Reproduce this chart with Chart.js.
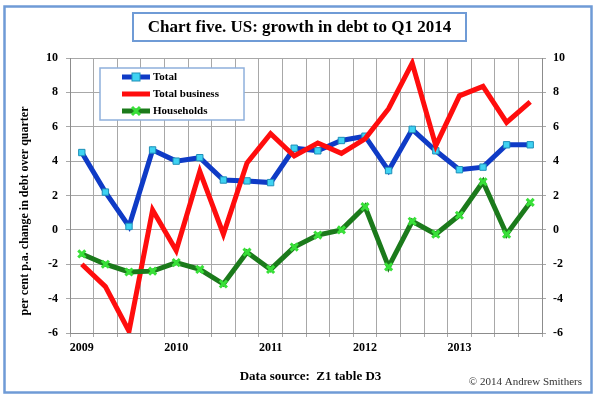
<!DOCTYPE html>
<html>
<head>
<meta charset="utf-8">
<script src="https://cdn.jsdelivr.net/npm/chart.js@4/dist/chart.umd.min.js"></script>
<style>
  html, body { margin: 0; padding: 0; background: #fff; }
  #wrap { width: 600px; height: 399px; }
</style>
</head>
<body>
<div id="wrap"><canvas id="canvas1" width="600" height="399"></canvas></div>
<script>
// quarterly data 2009 Q1 .. 2013 Q4
var quarters = [
  '2009 Q1', '2009 Q2', '2009 Q3', '2009 Q4',
  '2010 Q1', '2010 Q2', '2010 Q3', '2010 Q4',
  '2011 Q1', '2011 Q2', '2011 Q3', '2011 Q4',
  '2012 Q1', '2012 Q2', '2012 Q3', '2012 Q4',
  '2013 Q1', '2013 Q2', '2013 Q3', '2013 Q4'
];
var yearLabels = ['2009', '2010', '2011', '2012', '2013'];

var dataTotal = [4.5, 2.2, 0.2, 4.65, 4.0, 4.2, 2.9, 2.85, 2.75, 4.75,
                 4.6, 5.2, 5.45, 3.45, 5.85, 4.6, 3.5, 3.65, 4.95, 4.95];
var dataBusiness = [-2.0, -3.3, -5.9, 1.15, -1.2, 3.4, -0.25, 3.9, 5.6, 4.3,
                    5.05, 4.45, 5.3, 7.05, 9.7, 4.9, 7.8, 8.35, 6.25, 7.45];
var dataHouseholds = [-1.4, -2.0, -2.45, -2.4, -1.9, -2.3, -3.15, -1.3, -2.3, -1.0,
                      -0.3, 0.0, 1.35, -2.15, 0.5, -0.25, 0.85, 2.8, -0.25, 1.6];

var serif = "'Times New Roman', 'Liberation Serif', serif";
var frameBlue = '#6f9bd6';

var decorPlugin = {
  id: 'decor',
  beforeDraw: function (chart) {
    var ctx = chart.ctx;
    ctx.save();
    ctx.fillStyle = '#fff';
    ctx.fillRect(0, 0, chart.width, chart.height);
    ctx.restore();
  },
  afterDraw: function (chart) {
    var ctx = chart.ctx;
    ctx.save();

    // outer frame
    ctx.strokeStyle = frameBlue;
    ctx.lineWidth = 2.5;
    ctx.strokeRect(4.5, 6.5, 587, 386);

    // title box
    ctx.fillStyle = '#fff';
    ctx.fillRect(133, 13, 333, 28);
    ctx.lineWidth = 2;
    ctx.strokeRect(133, 13, 333, 28);
    ctx.fillStyle = '#000';
    ctx.font = 'bold 17px ' + serif;
    ctx.textAlign = 'center';
    ctx.textBaseline = 'middle';
    ctx.fillText('Chart five. US: growth in debt to Q1 2014', 299.5, 27.5);

    // y axis title
    ctx.save();
    ctx.translate(25, 211);
    ctx.rotate(-Math.PI / 2);
    ctx.font = 'bold 12px ' + serif;
    ctx.fillText('per cent p.a. change in debt over quarter', 0, 0);
    ctx.restore();

    // footer
    ctx.font = 'bold 13px ' + serif;
    ctx.fillText('Data source:  Z1 table D3', 310.5, 377);
    ctx.font = '11px ' + serif;
    ctx.textAlign = 'right';
    ctx.fillStyle = '#333';
    ctx.fillText('\u00a9 2014 Andrew Smithers', 582, 382.5);

    // legend
    ctx.fillStyle = '#fff';
    ctx.fillRect(100, 68, 144, 52);
    ctx.strokeStyle = '#8fb0dc';
    ctx.lineWidth = 1.5;
    ctx.strokeRect(100, 68, 144, 52);
    var rows = [77, 94, 111];
    chart.data.datasets.forEach(function (ds, i) {
      var y = rows[i];
      ctx.strokeStyle = ds.borderColor;
      ctx.lineWidth = 5;
      ctx.beginPath();
      ctx.moveTo(122, y);
      ctx.lineTo(150, y);
      ctx.stroke();
      if (ds.pointStyle === 'rect') {
        ctx.fillStyle = ds.pointBackgroundColor;
        ctx.fillRect(132, y - 4, 8, 8);
        ctx.strokeStyle = ds.pointBorderColor;
        ctx.lineWidth = 1;
        ctx.strokeRect(132, y - 4, 8, 8);
      } else if (ds.pointStyle === 'crossRot') {
        ctx.strokeStyle = ds.pointBorderColor;
        ctx.lineWidth = 3;
        ctx.beginPath();
        ctx.moveTo(132, y - 4); ctx.lineTo(140, y + 4);
        ctx.moveTo(140, y - 4); ctx.lineTo(132, y + 4);
        ctx.stroke();
      }
      ctx.fillStyle = '#000';
      ctx.font = 'bold 11px ' + serif;
      ctx.textAlign = 'left';
      ctx.textBaseline = 'middle';
      ctx.fillText(ds.label, 153, y + 0.5);
    });

    ctx.restore();
  }
};

var gridColor = '#a8a8a8';

var ctx1 = document.getElementById('canvas1').getContext('2d');
window.myLine = new Chart(ctx1, {
  type: 'line',
  data: {
    labels: quarters,
    datasets: [{
      label: 'Total',
      data: dataTotal,
      borderColor: '#0f3bc6',
      borderWidth: 5,
      pointStyle: 'rect',
      pointRadius: 4.5,
      pointBackgroundColor: '#3fd3f2',
      pointBorderColor: '#1f8fb8',
      pointBorderWidth: 1,
      order: 3
    }, {
      label: 'Total business',
      data: dataBusiness,
      borderColor: '#ff0d0d',
      borderWidth: 5,
      pointRadius: 0,
      order: 2
    }, {
      label: 'Households',
      data: dataHouseholds,
      borderColor: '#1b7a1b',
      borderWidth: 5,
      pointStyle: 'crossRot',
      pointRadius: 5,
      pointBorderColor: '#38e038',
      pointBorderWidth: 3,
      order: 1
    }]
  },
  options: {
    responsive: false,
    animation: false,
    layout: { padding: { top: 58, bottom: 36, left: 0, right: 0 } },
    plugins: {
      legend: { display: false },
      title: { display: false },
      tooltip: { enabled: false }
    },
    elements: { line: { tension: 0 } },
    scales: {
      x: {
        type: 'category',
        offset: true,
        grid: { offset: true, color: gridColor, tickLength: 4 },
        border: { color: '#8c8c8c' },
        ticks: {
          autoSkip: false,
          maxRotation: 0,
          padding: 4,
          color: '#000',
          font: { family: serif, size: 12, weight: 'bold' },
          callback: function (v, i) { return i % 4 === 0 ? yearLabels[i / 4] : ''; }
        },
        afterFit: function (s) { s.height = 30; }
      },
      y: {
        position: 'left',
        min: -6, max: 10,
        grid: { color: gridColor, tickLength: 4 },
        border: { color: '#8c8c8c' },
        ticks: {
          stepSize: 2, padding: 8, color: '#000',
          font: { family: serif, size: 12, weight: 'bold' }
        },
        afterFit: function (s) { s.width = 70; }
      },
      y2: {
        position: 'right',
        min: -6, max: 10,
        grid: { drawOnChartArea: false, color: gridColor, tickLength: 4 },
        border: { color: '#8c8c8c' },
        ticks: {
          stepSize: 2, padding: 7, color: '#000',
          font: { family: serif, size: 12, weight: 'bold' }
        },
        afterFit: function (s) { s.width = 58; }
      }
    }
  },
  plugins: [decorPlugin]
});
</script>
</body>
</html>
